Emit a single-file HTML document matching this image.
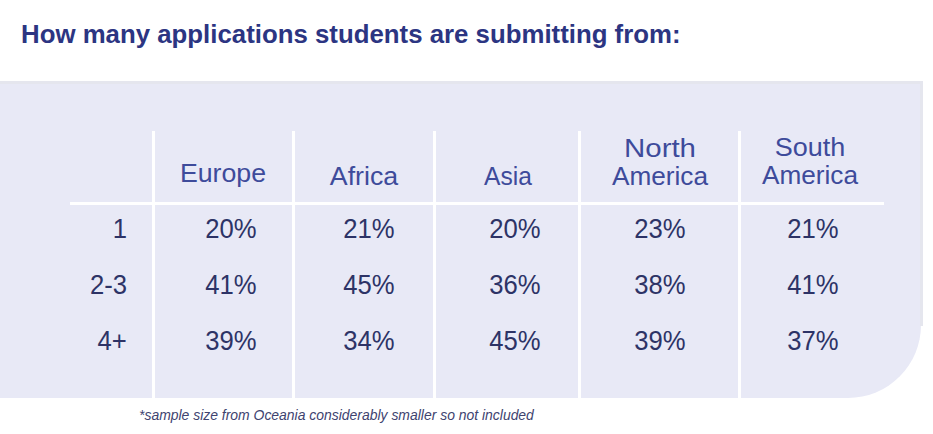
<!DOCTYPE html>
<html><head><meta charset="utf-8"><style>
html,body{margin:0;padding:0;}
body{width:933px;height:434px;position:relative;overflow:hidden;background:#fff;font-family:"Liberation Sans",sans-serif;}
</style></head><body>
<div style="position:absolute;left:0;top:81px;width:921px;height:317px;background:#E8E9F6;border-bottom-right-radius:73px;"></div>
<div style="position:absolute;left:0;top:81px;width:923px;height:2.5px;background:#E5E6EE;"></div>
<div style="position:absolute;left:920px;top:81px;width:3px;height:245px;background:#E5E6EE;"></div>
<div style="position:absolute;left:152px;top:131px;width:3px;height:267px;background:#fff;"></div>
<div style="position:absolute;left:292px;top:131px;width:3px;height:267px;background:#fff;"></div>
<div style="position:absolute;left:433px;top:131px;width:3px;height:267px;background:#fff;"></div>
<div style="position:absolute;left:578px;top:131px;width:3px;height:267px;background:#fff;"></div>
<div style="position:absolute;left:738px;top:131px;width:3px;height:267px;background:#fff;"></div>
<div style="position:absolute;left:70px;top:201.5px;width:814px;height:3.5px;background:#fff;"></div>
<div style="position:absolute;top:20.99px;font-size:26px;line-height:26px;color:#2C3582;font-weight:bold;font-style:normal;white-space:nowrap;left:21.00px;transform:scaleX(0.9925);transform-origin:left center;">How many applications students are submitting from:</div>
<div style="position:absolute;top:159.96px;font-size:26.5px;line-height:26.5px;color:#3E4B9B;font-weight:normal;font-style:normal;white-space:nowrap;left:23.40px;width:400px;text-align:center;transform:scaleX(1.009);transform-origin:center center;">Europe</div>
<div style="position:absolute;top:163.36px;font-size:26.5px;line-height:26.5px;color:#3E4B9B;font-weight:normal;font-style:normal;white-space:nowrap;left:163.70px;width:400px;text-align:center;transform:scaleX(1.009);transform-origin:center center;">Africa</div>
<div style="position:absolute;top:163.06px;font-size:26.5px;line-height:26.5px;color:#3E4B9B;font-weight:normal;font-style:normal;white-space:nowrap;left:307.80px;width:400px;text-align:center;transform:scaleX(0.927);transform-origin:center center;">Asia</div>
<div style="position:absolute;top:134.96px;font-size:26.5px;line-height:26.5px;color:#3E4B9B;font-weight:normal;font-style:normal;white-space:nowrap;left:460.00px;width:400px;text-align:center;transform:scaleX(1.111);transform-origin:center center;">North</div>
<div style="position:absolute;top:163.26px;font-size:26.5px;line-height:26.5px;color:#3E4B9B;font-weight:normal;font-style:normal;white-space:nowrap;left:459.60px;width:400px;text-align:center;transform:scaleX(0.988);transform-origin:center center;">America</div>
<div style="position:absolute;top:133.96px;font-size:26.5px;line-height:26.5px;color:#3E4B9B;font-weight:normal;font-style:normal;white-space:nowrap;left:610.00px;width:400px;text-align:center;transform:scaleX(1.019);transform-origin:center center;">South</div>
<div style="position:absolute;top:162.36px;font-size:26.5px;line-height:26.5px;color:#3E4B9B;font-weight:normal;font-style:normal;white-space:nowrap;left:609.50px;width:400px;text-align:center;transform:scaleX(0.988);transform-origin:center center;">America</div>
<div style="position:absolute;top:215.64px;font-size:27px;line-height:27px;color:#2D3366;font-weight:normal;font-style:normal;white-space:nowrap;right:806.00px;text-align:right;transform:scaleX(0.95);transform-origin:right center;">1</div>
<div style="position:absolute;top:271.64px;font-size:27px;line-height:27px;color:#2D3366;font-weight:normal;font-style:normal;white-space:nowrap;right:806.00px;text-align:right;transform:scaleX(0.95);transform-origin:right center;">2-3</div>
<div style="position:absolute;top:327.64px;font-size:27px;line-height:27px;color:#2D3366;font-weight:normal;font-style:normal;white-space:nowrap;right:806.00px;text-align:right;transform:scaleX(0.95);transform-origin:right center;">4+</div>
<div style="position:absolute;top:215.64px;font-size:27px;line-height:27px;color:#2D3366;font-weight:normal;font-style:normal;white-space:nowrap;left:31.40px;width:400px;text-align:center;transform:scaleX(0.95);transform-origin:center center;">20%</div>
<div style="position:absolute;top:215.64px;font-size:27px;line-height:27px;color:#2D3366;font-weight:normal;font-style:normal;white-space:nowrap;left:168.60px;width:400px;text-align:center;transform:scaleX(0.95);transform-origin:center center;">21%</div>
<div style="position:absolute;top:215.64px;font-size:27px;line-height:27px;color:#2D3366;font-weight:normal;font-style:normal;white-space:nowrap;left:314.50px;width:400px;text-align:center;transform:scaleX(0.95);transform-origin:center center;">20%</div>
<div style="position:absolute;top:215.64px;font-size:27px;line-height:27px;color:#2D3366;font-weight:normal;font-style:normal;white-space:nowrap;left:459.50px;width:400px;text-align:center;transform:scaleX(0.95);transform-origin:center center;">23%</div>
<div style="position:absolute;top:215.64px;font-size:27px;line-height:27px;color:#2D3366;font-weight:normal;font-style:normal;white-space:nowrap;left:613.00px;width:400px;text-align:center;transform:scaleX(0.95);transform-origin:center center;">21%</div>
<div style="position:absolute;top:271.64px;font-size:27px;line-height:27px;color:#2D3366;font-weight:normal;font-style:normal;white-space:nowrap;left:31.40px;width:400px;text-align:center;transform:scaleX(0.95);transform-origin:center center;">41%</div>
<div style="position:absolute;top:271.64px;font-size:27px;line-height:27px;color:#2D3366;font-weight:normal;font-style:normal;white-space:nowrap;left:168.60px;width:400px;text-align:center;transform:scaleX(0.95);transform-origin:center center;">45%</div>
<div style="position:absolute;top:271.64px;font-size:27px;line-height:27px;color:#2D3366;font-weight:normal;font-style:normal;white-space:nowrap;left:314.50px;width:400px;text-align:center;transform:scaleX(0.95);transform-origin:center center;">36%</div>
<div style="position:absolute;top:271.64px;font-size:27px;line-height:27px;color:#2D3366;font-weight:normal;font-style:normal;white-space:nowrap;left:459.50px;width:400px;text-align:center;transform:scaleX(0.95);transform-origin:center center;">38%</div>
<div style="position:absolute;top:271.64px;font-size:27px;line-height:27px;color:#2D3366;font-weight:normal;font-style:normal;white-space:nowrap;left:613.00px;width:400px;text-align:center;transform:scaleX(0.95);transform-origin:center center;">41%</div>
<div style="position:absolute;top:327.64px;font-size:27px;line-height:27px;color:#2D3366;font-weight:normal;font-style:normal;white-space:nowrap;left:31.40px;width:400px;text-align:center;transform:scaleX(0.95);transform-origin:center center;">39%</div>
<div style="position:absolute;top:327.64px;font-size:27px;line-height:27px;color:#2D3366;font-weight:normal;font-style:normal;white-space:nowrap;left:168.60px;width:400px;text-align:center;transform:scaleX(0.95);transform-origin:center center;">34%</div>
<div style="position:absolute;top:327.64px;font-size:27px;line-height:27px;color:#2D3366;font-weight:normal;font-style:normal;white-space:nowrap;left:314.50px;width:400px;text-align:center;transform:scaleX(0.95);transform-origin:center center;">45%</div>
<div style="position:absolute;top:327.64px;font-size:27px;line-height:27px;color:#2D3366;font-weight:normal;font-style:normal;white-space:nowrap;left:459.50px;width:400px;text-align:center;transform:scaleX(0.95);transform-origin:center center;">39%</div>
<div style="position:absolute;top:327.64px;font-size:27px;line-height:27px;color:#2D3366;font-weight:normal;font-style:normal;white-space:nowrap;left:613.00px;width:400px;text-align:center;transform:scaleX(0.95);transform-origin:center center;">37%</div>
<div style="position:absolute;top:408.15px;font-size:14px;line-height:14px;color:#40436F;font-weight:normal;font-style:italic;white-space:nowrap;left:139.00px;transform:scaleX(0.995);transform-origin:left center;">*sample size from Oceania considerably smaller so not included</div>
</body></html>
